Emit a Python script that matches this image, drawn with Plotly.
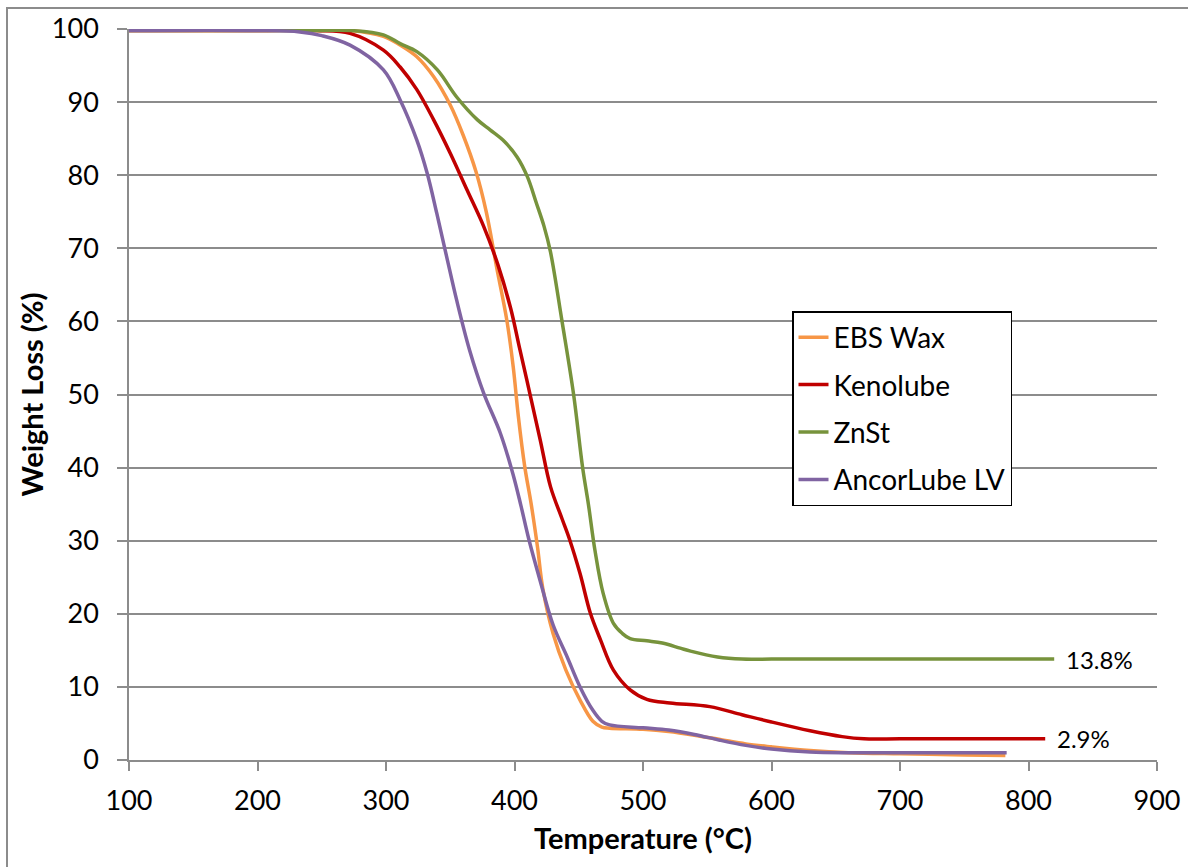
import plotly.graph_objects as go

# ---- data ----
ebs_t = [100, 200, 250, 272, 298, 311, 324, 337, 350, 360, 370, 378, 386, 394, 399, 403, 408, 413, 418,
         422, 430, 440, 451, 461, 468, 474, 500, 520, 540, 560, 580, 600, 630, 660, 700, 750, 782]
ebs_w = [99.8, 99.8, 99.8, 99.8, 99.0, 97.8, 96.2, 93.5, 89.6, 85.5, 80.5, 75.0, 67.5, 60.2, 53.8, 47.0, 40.1, 35.0, 29.0,
         23.5, 17.3, 12.3, 8.2, 5.3, 4.5, 4.35, 4.2, 3.9, 3.4, 2.8, 2.2, 1.8, 1.3, 1.0, 0.85, 0.7, 0.6]

keno_t = [100, 200, 246, 272, 298, 311, 324, 337, 350, 363, 376, 387, 397, 404, 412, 420, 428, 437, 443,
          451, 459, 467, 477, 490, 503, 521, 552, 577, 600, 630, 655, 672, 700, 750, 813]
keno_w = [99.8, 99.8, 99.8, 99.4, 97.1, 94.8, 91.7, 87.6, 83.0, 78.0, 73.0, 67.8, 61.8, 56.3, 50.1, 43.8, 37.4, 33.0, 30.1,
          25.5, 20.1, 16.4, 12.3, 9.6, 8.3, 7.8, 7.3, 6.2, 5.2, 4.0, 3.2, 2.9, 2.9, 2.9, 2.9]

znst_t = [100, 200, 250, 272, 298, 311, 324, 340, 355, 371, 381, 391, 402, 410, 417, 423, 428, 437, 446, 453,
          457.5, 462.6, 469, 477, 484, 490, 503, 515, 529, 537, 558, 577, 600, 700, 820]
znst_w = [99.8, 99.8, 99.8, 99.8, 99.2, 98.0, 96.9, 94.4, 90.7, 87.6, 86.2, 84.8, 82.5, 79.8, 76.2, 73.0, 69.5, 60.0, 50.0, 40.0,
          35.0, 28.7, 22.8, 18.7, 17.3, 16.6, 16.3, 16.0, 15.3, 14.9, 14.1, 13.8, 13.8, 13.8, 13.8]

ancor_t = [100, 200, 233, 250, 272, 298, 311, 324, 332, 339.5, 347, 355, 365, 376, 389, 399, 405, 411, 420,
           430, 441, 451, 461, 468, 474, 500, 520, 540, 560, 580, 600, 630, 660, 700, 783]
ancor_w = [99.8, 99.8, 99.6, 99.1, 97.8, 94.4, 90.3, 84.8, 80.3, 74.8, 69.0, 62.9, 56.1, 50.2, 44.7, 39.0, 34.8, 30.3, 24.5,
           18.5, 14.1, 10.0, 6.8, 5.3, 4.8, 4.4, 4.1, 3.5, 2.7, 2.0, 1.5, 1.1, 1.0, 1.0, 1.0]

series_names = ["EBS Wax", "Kenolube", "ZnSt", "AncorLube LV"]
series_colors = ["#F79646", "#C00000", "#77933C", "#8064A2"]
end_labels = {"Kenolube": "2.9%", "ZnSt": "13.8%"}

x_ticks = [100, 200, 300, 400, 500, 600, 700, 800, 900]
y_ticks = [0, 10, 20, 30, 40, 50, 60, 70, 80, 90, 100]
x_title = "Temperature (°C)"
y_title = "Weight Loss (%)"

FONT = "Lato, 'Open Sans', sans-serif"
GRID = "#8C8C8C"

data = [(ebs_t, ebs_w), (keno_t, keno_w), (znst_t, znst_w), (ancor_t, ancor_w)]

fig = go.Figure()
for name, color, (t, w) in zip(series_names, series_colors, data):
    fig.add_trace(go.Scatter(
        x=t, y=w, mode="lines", name=name, legendgroup=name,
        line=dict(color=color, width=3.5, shape="spline", smoothing=1.0),
    ))

W, H = 1188, 867
L, R, T, B = 129, 1157, 29, 760

def px_x(p):
    return (p - L) / (R - L)

def px_y(p):
    return (B - p) / (B - T)

annotations = []
for name, (t, w) in zip(series_names, data):
    if name in end_labels:
        annotations.append(dict(
            x=t[-1], y=w[-1], xref="x", yref="y", text=end_labels[name],
            showarrow=False, xanchor="left", yanchor="middle", xshift=10,
            font=dict(family=FONT, size=24, color="#000000"),
        ))
annotations.append(dict(
    x=0.5, y=px_y(837), xref="paper", yref="paper", text="<b>" + x_title + "</b>",
    showarrow=False, xanchor="center", yanchor="middle",
    font=dict(family=FONT, size=29, color="#000000"),
))
annotations.append(dict(
    x=px_x(31), y=0.5, xref="paper", yref="paper", text="<b>" + y_title + "</b>",
    showarrow=False, xanchor="center", yanchor="middle", textangle=-90,
    font=dict(family=FONT, size=29, color="#000000"),
))

fig.update_layout(
    width=W, height=H,
    margin=dict(l=L, r=W - R, t=T, b=H - B, pad=0, autoexpand=False),
    paper_bgcolor="white", plot_bgcolor="white",
    font=dict(family=FONT, color="#000000"),
    showlegend=True,
    legend=dict(
        x=px_x(792), y=px_y(311), xanchor="left", yanchor="top",
        bgcolor="white", bordercolor="#000000", borderwidth=1.5,
        font=dict(family=FONT, size=28, color="#000000"),
        tracegroupgap=8, itemwidth=30,
    ),
    annotations=annotations,
    shapes=[dict(
        type="rect", xref="paper", yref="paper",
        x0=px_x(7), x1=px_x(1200), y0=px_y(880), y1=px_y(8),
        line=dict(color="#8C8C8C", width=2), fillcolor="rgba(0,0,0,0)", layer="below",
    )],
    xaxis=dict(
        range=[100, 900], tickvals=x_ticks, showgrid=False, zeroline=False,
        showline=True, linecolor=GRID, linewidth=1.5,
        ticks="outside", ticklen=9, tickwidth=1.5, tickcolor=GRID,
        tickfont=dict(family=FONT, size=27, color="#000000"),
        ticklabelstandoff=7, automargin=False,
    ),
    yaxis=dict(
        range=[0, 100], tickvals=y_ticks, showgrid=True, gridcolor=GRID, gridwidth=1.5,
        zeroline=False, showline=True, linecolor=GRID, linewidth=1.5,
        ticks="outside", ticklen=10, tickwidth=1.5, tickcolor=GRID,
        tickfont=dict(family=FONT, size=27, color="#000000"),
        ticklabelstandoff=13, automargin=False,
    ),
)

fig.write_html("out.html", config={"displayModeBar": False},
               post_script="document.body.style.margin='0';")
